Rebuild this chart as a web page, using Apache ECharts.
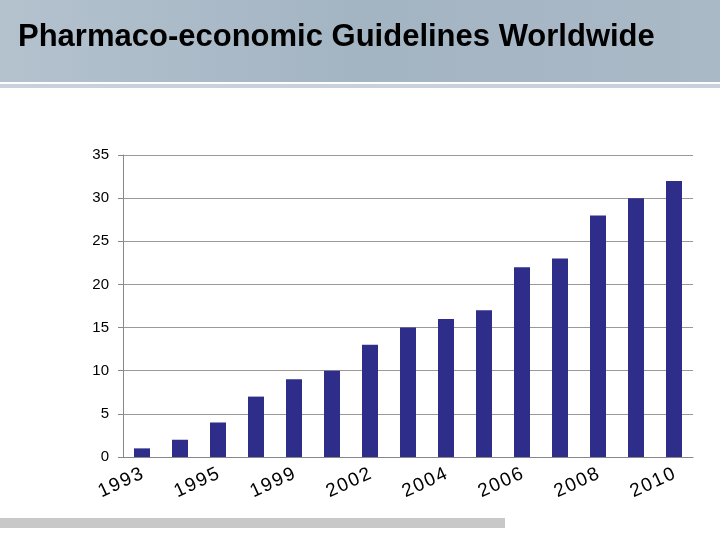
<!DOCTYPE html>
<html>
<head>
<meta charset="utf-8">
<script src="https://cdn.jsdelivr.net/npm/echarts@6/dist/echarts.min.js"></script>
<style>html,body{margin:0;padding:0;background:#fff}#chart{width:720px;height:540px}</style>
</head>
<body>
<div id="chart"></div>
<script>
// years and number of guidelines
var years = ["1993", "1994", "1995", "1997", "1999", "2001", "2002", "2003", "2004", "2005", "2006", "2007", "2008", "2009", "2010"];
var counts = [1, 2, 4, 7, 9, 10, 13, 15, 16, 17, 22, 23, 28, 30, 32];
var shownYears = ["1993", "1995", "1999", "2002", "2004", "2006", "2008", "2010"];

var myChart = echarts.init(document.getElementById("chart"));
var option = {
  animation: false,
  graphic: [
    { type: "rect", shape: { x: 0, y: 0, width: 720, height: 82 }, style: { fill: new echarts.graphic.LinearGradient(0, 0, 1, 0, [{ offset: 0, color: "#b4c2ce" }, { offset: 0.5, color: "#a3b4c3" }, { offset: 1, color: "#aab9c6" }]) }, z: -1 },
    { type: "rect", shape: { x: 0, y: 84, width: 720, height: 4 }, style: { fill: "#c9d2da" }, z: -1 },
    { type: "rect", shape: { x: 0, y: 518, width: 505, height: 10 }, style: { fill: "#c8c8c8" }, z: -1 },
    { type: "text", left: 18, top: 22, style: { text: "Pharmaco-economic Guidelines Worldwide", font: "bold 31px 'Liberation Sans', Arial", fill: "#000" } }
  ],
  grid: { left: 123, right: 27, top: 155, bottom: 83 },
  xAxis: {
    type: "category",
    data: years,
    axisTick: { show: false },
    axisLine: { lineStyle: { color: "#888" } },
    axisLabel: {
      interval: 0, rotate: 25, fontSize: 19, color: "#000", fontFamily: "Liberation Sans",
      margin: 16,
      formatter: function (v) { return shownYears.indexOf(v) >= 0 ? v.split("").join("\u200a") : ""; }
    }
  },
  yAxis: {
    type: "value", min: 0, max: 35, interval: 5,
    axisLine: { show: true, lineStyle: { color: "#888" } },
    axisTick: { show: true, length: 5, lineStyle: { color: "#888" } },
    splitLine: { lineStyle: { color: "#999" } },
    axisLabel: { fontSize: 15, color: "#000", fontFamily: "Liberation Sans", margin: 14 }
  },
  series: [{ type: "bar", data: counts, barWidth: 16, itemStyle: { color: "#2e2e8a" } }]
};
myChart.setOption(option);
</script>
</body>
</html>
